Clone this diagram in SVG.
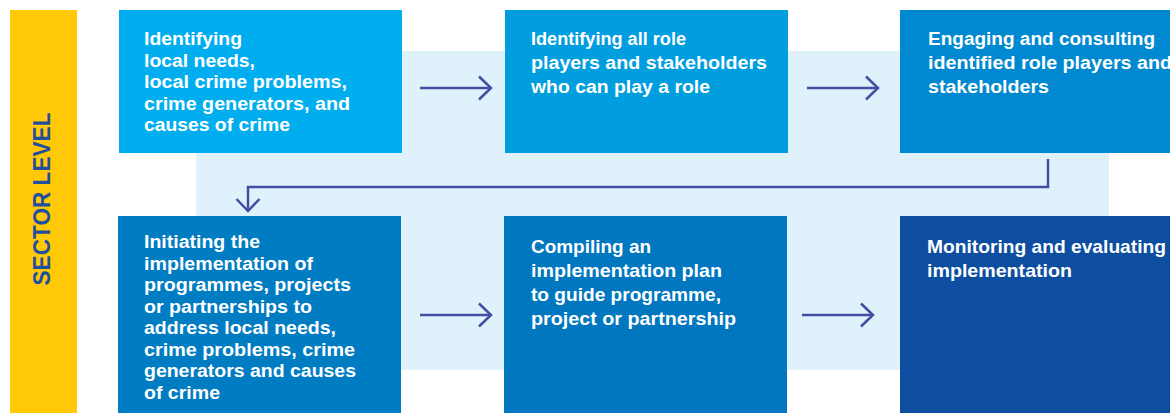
<svg xmlns="http://www.w3.org/2000/svg" width="1170" height="413" viewBox="0 0 1170 413">
<defs>
<style>
.t{font-family:"Liberation Sans",Arial,sans-serif;font-weight:bold;fill:#ffffff;font-size:17.5px}
.c{font-family:"Liberation Sans",Arial,sans-serif;font-weight:bold;fill:#ffffff;font-size:19px}
.con{fill:none;stroke:#3f4fa2;stroke-width:2.5}
</style>
<marker id="ah" markerUnits="userSpaceOnUse" viewBox="0 0 15 26" refX="13.5" refY="13" markerWidth="15" markerHeight="26" orient="auto">
<path d="M1.5,1.5 L13.5,13 L1.5,24.5" fill="none" stroke="#3f4fa2" stroke-width="2.5"/>
</marker>
</defs>
<rect width="1170" height="413" fill="#ffffff"/>
<rect x="196" y="51" width="913" height="319" fill="#dff1fa"/>
<g id="sector">
<rect x="10" y="10" width="67" height="403" fill="#ffc907"/>
<text transform="translate(49.5,199) rotate(-90)" text-anchor="middle" font-family="Liberation Sans,Arial,sans-serif" font-weight="bold" font-size="24" fill="#1f4f9e" textLength="173" lengthAdjust="spacingAndGlyphs">SECTOR LEVEL</text>
</g>
<g id="n1">
<rect x="119" y="10" width="283" height="143" fill="#00aeef"/>
<text class="t"><tspan x="144" y="45" textLength="98" lengthAdjust="spacingAndGlyphs">Identifying</tspan><tspan x="144" y="66.5" textLength="111" lengthAdjust="spacingAndGlyphs">local needs,</tspan><tspan x="144" y="88" textLength="203" lengthAdjust="spacingAndGlyphs">local crime problems,</tspan><tspan x="144" y="109.5" textLength="206" lengthAdjust="spacingAndGlyphs">crime generators, and</tspan><tspan x="144" y="131" textLength="146" lengthAdjust="spacingAndGlyphs">causes of crime</tspan></text>
</g>
<g id="n2">
<rect x="505" y="10" width="283" height="143" fill="#009ddf"/>
<text class="t"><tspan x="531" y="44.5" textLength="155" lengthAdjust="spacingAndGlyphs">Identifying all role</tspan><tspan x="531" y="68.5" textLength="236" lengthAdjust="spacingAndGlyphs">players and stakeholders</tspan><tspan x="531" y="92.5" textLength="179" lengthAdjust="spacingAndGlyphs">who can play a role</tspan></text>
</g>
<g id="n3">
<rect x="900" y="10" width="270" height="143" fill="#0089d0"/>
<text class="t"><tspan x="928" y="44.5" textLength="227" lengthAdjust="spacingAndGlyphs">Engaging and consulting</tspan><tspan x="928" y="68.5" textLength="244" lengthAdjust="spacingAndGlyphs">identified role players and</tspan><tspan x="928" y="92.5" textLength="121" lengthAdjust="spacingAndGlyphs">stakeholders</tspan></text>
</g>
<g id="n4">
<rect x="118" y="216" width="283" height="197" fill="#007cc3"/>
<text class="t"><tspan x="144" y="248" textLength="116" lengthAdjust="spacingAndGlyphs">Initiating the</tspan><tspan x="144" y="269.5" textLength="169" lengthAdjust="spacingAndGlyphs">implementation of</tspan><tspan x="144" y="291" textLength="207" lengthAdjust="spacingAndGlyphs">programmes, projects</tspan><tspan x="144" y="312.5" textLength="168" lengthAdjust="spacingAndGlyphs">or partnerships to</tspan><tspan x="144" y="334" textLength="192" lengthAdjust="spacingAndGlyphs">address local needs,</tspan><tspan x="144" y="355.5" textLength="211" lengthAdjust="spacingAndGlyphs">crime problems, crime</tspan><tspan x="144" y="377" textLength="212" lengthAdjust="spacingAndGlyphs">generators and causes</tspan><tspan x="144" y="398.5" textLength="76" lengthAdjust="spacingAndGlyphs">of crime</tspan></text>
</g>
<g id="n5">
<rect x="504" y="216" width="283" height="197" fill="#0077bf"/>
<text class="c"><tspan x="531" y="252.5" textLength="120" lengthAdjust="spacingAndGlyphs">Compiling an</tspan><tspan x="531" y="276.5" textLength="191" lengthAdjust="spacingAndGlyphs">implementation plan</tspan><tspan x="531" y="300.5" textLength="190" lengthAdjust="spacingAndGlyphs">to guide programme,</tspan><tspan x="531" y="324.5" textLength="205" lengthAdjust="spacingAndGlyphs">project or partnership</tspan></text>
</g>
<g id="n6">
<rect x="900" y="216" width="270" height="197" fill="#0d4ea0"/>
<text class="c"><tspan x="927" y="252.5" textLength="239" lengthAdjust="spacingAndGlyphs">Monitoring and evaluating</tspan><tspan x="927" y="276.5" textLength="145" lengthAdjust="spacingAndGlyphs">implementation</tspan></text>
</g>
<g id="connectors">
<path class="con" d="M420,88 H491" marker-end="url(#ah)"/>
<path class="con" d="M807,88 H878" marker-end="url(#ah)"/>
<path class="con" d="M1048,159 V187 H248 V211" marker-end="url(#ah)"/>
<path class="con" d="M420,315 H491" marker-end="url(#ah)"/>
<path class="con" d="M802,315 H873" marker-end="url(#ah)"/>
</g>
</svg>
